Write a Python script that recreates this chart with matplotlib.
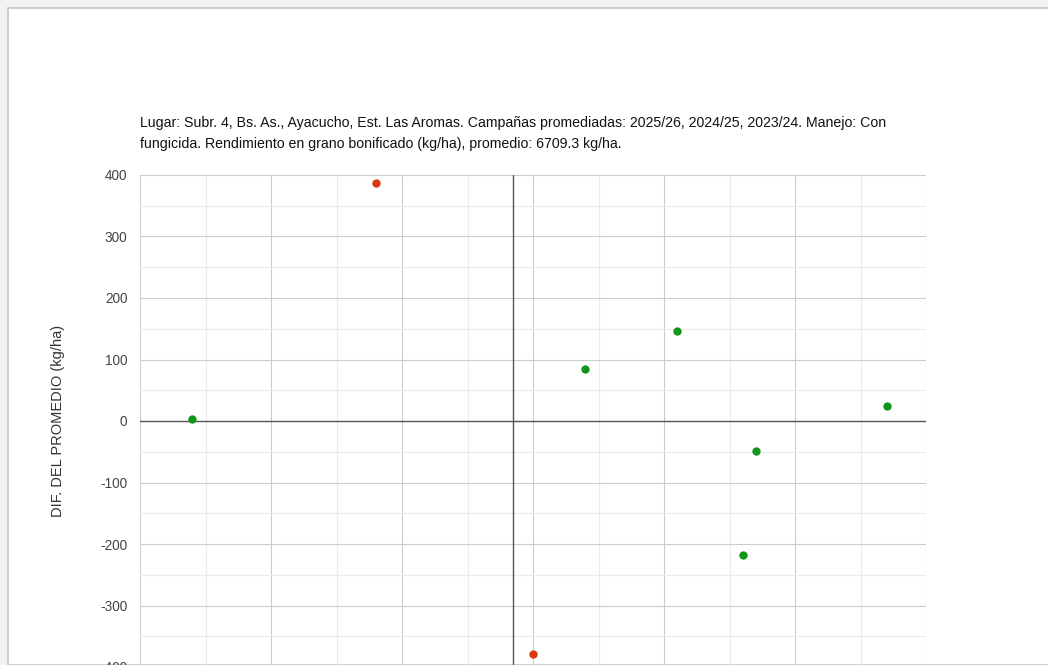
import matplotlib.pyplot as plt
from matplotlib.patches import Rectangle
from matplotlib.ticker import MultipleLocator

plt.rcParams["font.family"] = ["Liberation Sans", "DejaVu Sans"]
plt.rcParams["axes.unicode_minus"] = False

# values (x axis has no visible labels, units arbitrary)
titulo = ("Lugar: Subr. 4, Bs. As., Ayacucho, Est. Las Aromas. Campañas promediadas: "
          "2025/26, 2024/25, 2023/24. Manejo: Con\n"
          "fungicida. Rendimiento en grano bonificado (kg/ha), promedio: 6709.3 kg/ha.")
etiqueta_y = "DIF. DEL PROMEDIO (kg/ha)"

x_verde = [-245, 55, 125, 285, 185, 175]
y_verde = [3, 85, 147, 24, -48, -218]
x_rojo = [-105, 15]
y_rojo = [387, -379]

x_lim = (-285, 315)
y_lim = (-400, 400)

fig = plt.figure(figsize=(10.48, 6.65), dpi=100)

# marco gris de la captura
fig.patches.append(Rectangle((0, 0), 1, 1, transform=fig.transFigure,
                             facecolor="#f2f2f2", edgecolor="none", zorder=-3))
fig.patches.append(Rectangle((8 / 1048, 0), 1, (665 - 8) / 665, transform=fig.transFigure,
                             facecolor="white", edgecolor="#c6c6c6", linewidth=1.2, zorder=-2))

ax = fig.add_axes([140 / 1048, -2 / 665, 786 / 1048, 492 / 665])
ax.set_facecolor("none")

ax.set_xlim(*x_lim)
ax.set_ylim(*y_lim)
ax.set_xticks([x_lim[0] + 100 * k for k in range(7)])
ax.set_xticks([x_lim[0] + 50 + 100 * k for k in range(6)], minor=True)
ax.yaxis.set_major_locator(MultipleLocator(100))
ax.yaxis.set_minor_locator(MultipleLocator(50))

ax.set_axisbelow(True)
ax.grid(which="major", color="#cccccc", linewidth=0.8)
ax.grid(which="minor", color="#ebebeb", linewidth=0.8)
ax.axhline(0, color="#555555", linewidth=1.0, zorder=2)
ax.axvline(0, color="#555555", linewidth=1.0, zorder=2)

for s in ax.spines.values():
    s.set_visible(False)

ax.tick_params(axis="x", which="both", length=0, labelbottom=False)
ax.tick_params(axis="y", which="both", length=0, labelsize=9.8,
               labelcolor="#444444", pad=9)

ax.scatter(x_verde, y_verde, s=36, color="#109618", zorder=3, linewidths=0)
ax.scatter(x_rojo, y_rojo, s=36, color="#dc3912", zorder=3, linewidths=0)

ax.set_ylabel(etiqueta_y, fontsize=10.5, color="#333333")
ax.yaxis.set_label_coords(-0.096, 0.5)

fig.text(140 / 1048, (665 - 116) / 665, titulo, ha="left", va="top",
         fontsize=10.2, color="#111111", linespacing=1.6)

plt.savefig("out.png", dpi=100)
plt.close()
